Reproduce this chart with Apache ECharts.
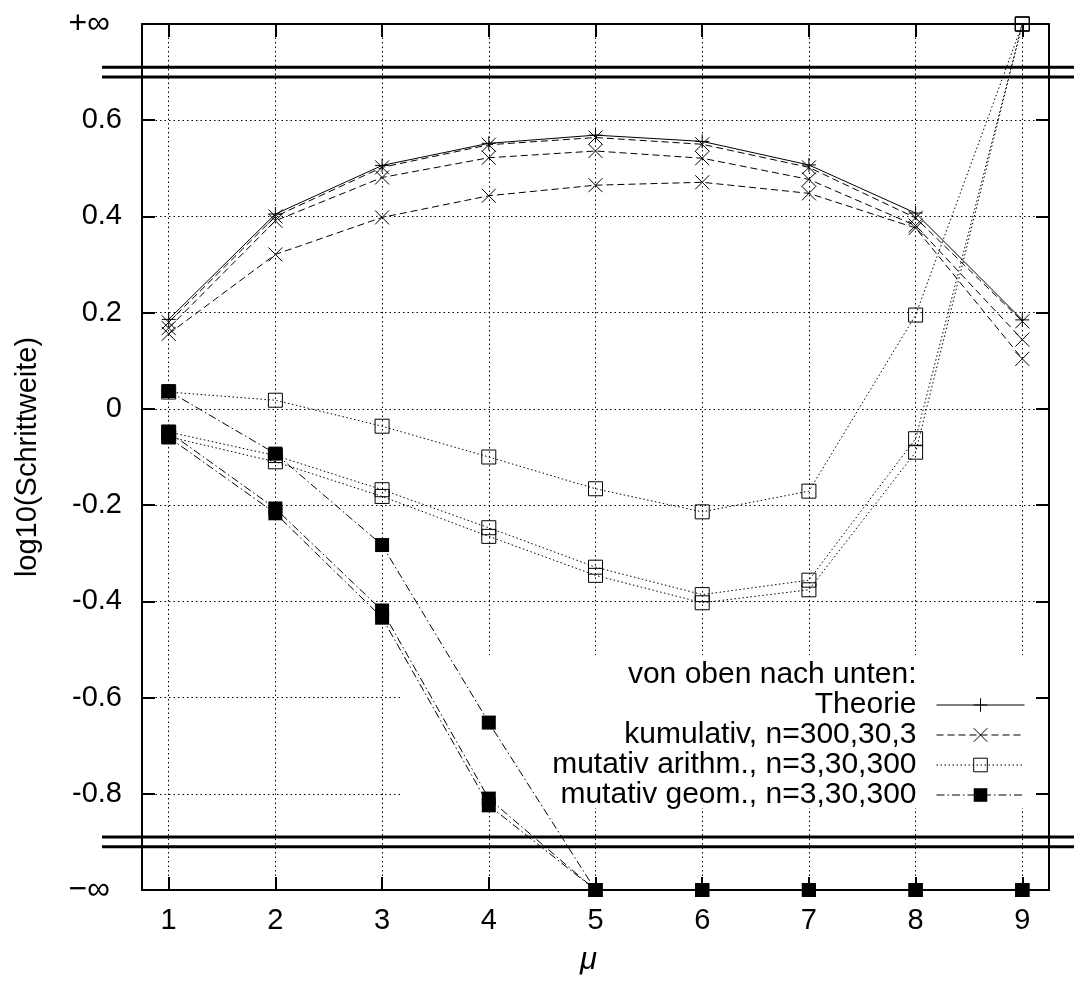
<!DOCTYPE html>
<html><head><meta charset="utf-8">
<script src="https://cdn.jsdelivr.net/npm/echarts@6/dist/echarts.min.js"></script>
<style>html,body{margin:0;padding:0;background:#fff}#c{width:1074px;height:981px}</style>
</head><body><div id="c"></div>
<script>
// ---------- data ----------
const mu = [1, 2, 3, 4, 5, 6, 7, 8, 9];
const xTickValues = [1, 2, 3, 4, 5, 6, 7, 8, 9];
const INF = Infinity;

const theorie = [0.186, 0.405, 0.506, 0.552, 0.569, 0.556, 0.507, 0.407, 0.185];
const kum300  = [0.180, 0.400, 0.502, 0.549, 0.564, 0.550, 0.502, 0.397, 0.182];
const kum30   = [0.168, 0.391, 0.481, 0.522, 0.536, 0.521, 0.477, 0.381, 0.144];
const kum3    = [0.156, 0.321, 0.398, 0.443, 0.465, 0.471, 0.448, 0.376, 0.104];

const arith3   = [0.035, 0.018, -0.036, -0.100, -0.166, -0.214, -0.171, 0.195, INF];
const arith30  = [-0.048, -0.097, -0.168, -0.247, -0.329, -0.386, -0.356, -0.062, INF];
const arith300 = [-0.058, -0.110, -0.182, -0.265, -0.346, -0.403, -0.376, -0.090, INF];

const geom3   = [0.037, -0.093, -0.283, -0.652, -INF, -INF, -INF, -INF, -INF];
const geom30  = [-0.048, -0.207, -0.419, -0.810, -INF, -INF, -INF, -INF, -INF];
const geom300 = [-0.059, -0.217, -0.434, -0.824, -INF, -INF, -INF, -INF, -INF];

const breakValues = [0.71, 0.69, -0.89, -0.91];

const NAME_TITLE = 'von oben nach unten:';
const NAME_THEO  = 'Theorie';
const NAME_KUM   = 'kumulativ, n=300,30,3';
const NAME_ARITH = 'mutativ arithm., n=3,30,300';
const NAME_GEOM  = 'mutativ geom., n=3,30,300';

// ---------- chart ----------
const Y_MIN = -1.0, Y_MAX = 0.8;   // ±∞ drawn at the axis ends
const FONT = '"Liberation Sans", Arial, Helvetica, sans-serif';
const SYM_PLUS  = 'path://M7,0V14M0,7H14';
const SYM_CROSS = 'path://M0,0L14,14M0,14L14,0';

function pts(vals) {
  return mu.map((m, i) => {
    let v = vals[i];
    if (v === Infinity) v = Y_MAX;
    else if (v === -Infinity) v = Y_MIN;
    return [m, v];
  });
}

function mk(name, vals, symbol, dash, filled) {
  return {
    type: 'line', name: name, data: pts(vals),
    symbol: symbol, symbolSize: 14, clip: false,
    lineStyle: { color: '#000', width: 1, type: dash },
    itemStyle: filled ? { color: '#000', borderWidth: 0 }
                      : { color: 'rgba(0,0,0,0)', borderColor: '#000', borderWidth: 1 },
    emphasis: { disabled: true },
    animation: false
  };
}

const DASH = [7, 4];
const DOT = [1.5, 2.5];
const DASHDOT = [8, 3, 1.5, 3];

const series = [
  { type: 'line', name: NAME_TITLE, data: [], symbol: 'none' },
  mk(NAME_THEO, theorie, SYM_PLUS, 'solid', false),
  mk(NAME_KUM, kum300, SYM_CROSS, DASH, false),
  mk(NAME_KUM, kum30, SYM_CROSS, DASH, false),
  mk(NAME_KUM, kum3, SYM_CROSS, DASH, false),
  mk(NAME_ARITH, arith3, 'rect', DOT, false),
  mk(NAME_ARITH, arith30, 'rect', DOT, false),
  mk(NAME_ARITH, arith300, 'rect', DOT, false),
  mk(NAME_GEOM, geom3, 'rect', DASHDOT, true),
  mk(NAME_GEOM, geom30, 'rect', DASHDOT, true),
  mk(NAME_GEOM, geom300, 'rect', DASHDOT, true)
];

const gridLine = { show: true, lineStyle: { color: '#000', width: 1, type: [1.5, 3] } };
const frameLine = { show: true, onZero: false, lineStyle: { color: '#000', width: 2 } };
const tick = { show: true, inside: true, length: 13, lineStyle: { color: '#000', width: 2 } };
const LABEL_SIZE = 29;

function yLabel(v) {
  if (Math.abs(v - Y_MAX) < 1e-6) return '{inf|+∞}';
  if (Math.abs(v - Y_MIN) < 1e-6) return '{inf|−∞}';
  if (Math.abs(v) < 1e-9) return '0';
  return v.toFixed(1);
}

const chart = echarts.init(document.getElementById('c'), null, { renderer: 'canvas' });
chart.setOption({
  animation: false,
  backgroundColor: '#fff',
  textStyle: { fontFamily: FONT },
  grid: { left: 142, right: 25, top: 24, bottom: 78, containLabel: false },
  xAxis: [
    {
      type: 'value', position: 'bottom', min: 0.75, max: 9.25,
      axisLine: frameLine,
      axisTick: Object.assign({}, tick, { customValues: xTickValues }),
      axisLabel: { customValues: xTickValues, fontSize: LABEL_SIZE, color: '#000', margin: 16, fontFamily: FONT },
      splitLine: gridLine,
      name: 'μ', nameLocation: 'middle', nameGap: 55,
      nameTextStyle: { fontSize: 31, fontStyle: 'italic', color: '#000', fontFamily: FONT, padding: [0, 14, 0, 0] }
    },
    {
      type: 'value', position: 'top', min: 0.75, max: 9.25,
      axisLine: frameLine,
      axisTick: Object.assign({}, tick, { customValues: xTickValues }),
      axisLabel: { show: false, customValues: xTickValues },
      splitLine: { show: false }
    }
  ],
  yAxis: [
    {
      type: 'value', position: 'left', min: Y_MIN, max: Y_MAX, interval: 0.2,
      axisLine: frameLine, axisTick: tick,
      axisLabel: {
        fontSize: LABEL_SIZE, color: '#000', margin: 20, fontFamily: FONT, formatter: yLabel,
        rich: { inf: { fontSize: 32, color: '#000', fontFamily: FONT, padding: [0, 12, 0, 0] } }
      },
      splitLine: gridLine,
      name: 'log10(Schrittweite)', nameLocation: 'middle', nameGap: 100, nameRotate: 90,
      nameTextStyle: { fontSize: LABEL_SIZE, color: '#000', fontFamily: FONT }
    },
    {
      type: 'value', position: 'right', min: Y_MIN, max: Y_MAX, interval: 0.2,
      axisLine: frameLine, axisTick: tick,
      axisLabel: { show: false }, splitLine: { show: false }
    }
  ],
  legend: {
    orient: 'vertical', right: 49, top: 660, align: 'right', padding: 0,
    itemGap: 0, itemWidth: 88, itemHeight: 17, selectedMode: false,
    data: [
      { name: NAME_TITLE, itemStyle: { opacity: 0 }, lineStyle: { opacity: 0 } },
      NAME_THEO, NAME_KUM, NAME_ARITH, NAME_GEOM
    ],
    formatter: n => '{t|' + n + '}{g| }',
    textStyle: {
      color: '#000', fontSize: 30, fontFamily: FONT,
      rich: {
        t: { color: '#000', fontSize: 30, fontFamily: FONT, lineHeight: 28.3 },
        g: { width: 15, fontSize: 30, lineHeight: 28.3 }
      }
    },
    itemStyle: { borderWidth: 1 },
    lineStyle: { width: 1 }
  },
  series: series
});

// decorations: opaque legend area and the axis-break double lines
const graphics = [{
  type: 'rect', z: 1, silent: true,
  shape: { x: 400, y: 655, width: 635, height: 153 },
  style: { fill: '#fff' }
}];
breakValues.forEach(v => {
  const y = chart.convertToPixel({ yAxisIndex: 0 }, v);
  graphics.push({
    type: 'line', z: 5, silent: true,
    shape: { x1: 102, y1: y, x2: 1074, y2: y },
    style: { stroke: '#000', lineWidth: 3 }
  });
});
chart.setOption({ graphic: graphics });
</script>
</body></html>
